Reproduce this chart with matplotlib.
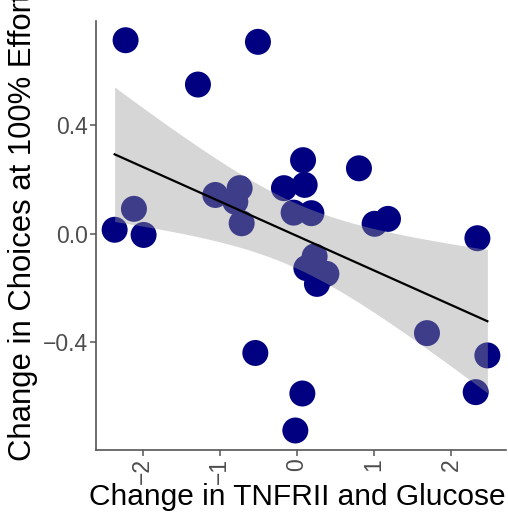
import numpy as np
import matplotlib
matplotlib.use("Agg")
import matplotlib.pyplot as plt

plt.rcParams['font.family'] = ['Liberation Sans', 'DejaVu Sans']

# Data
x_vals = [-2.219, -0.505, -1.282, -2.361, -2.111, -1.986, -1.057, -0.742, -0.798,
          -0.716, 0.079, -0.168, 0.100, -0.043, 0.187, 0.803, 1.006, 1.179, 2.337,
          0.229, 0.122, 0.381, 0.259, 1.684, 2.466, 2.315, -0.539, 0.070, -0.021]
y_vals = [0.711, 0.705, 0.548, 0.014, 0.091, -0.005, 0.142, 0.167, 0.117,
          0.038, 0.270, 0.167, 0.179, 0.077, 0.075, 0.240, 0.036, 0.054, -0.017,
          -0.084, -0.127, -0.148, -0.185, -0.366, -0.448, -0.583, -0.439, -0.588, -0.724]
x_ticks = [-2, -1, 0, 1, 2]
y_ticks = [-0.4, 0.0, 0.4]
x_label = "Change in TNFRII and Glucose"
y_label = "Change in Choices at 100% Effort"

x = np.array(x_vals)
y = np.array(y_vals)
n = len(x)

# Linear fit with 95% confidence band
b1, b0 = np.polyfit(x, y, 1)
resid = y - (b0 + b1 * x)
s = np.sqrt(np.sum(resid ** 2) / (n - 2))
t_crit = 2.052  # t(0.975, df=27)
xs = np.linspace(x.min(), x.max(), 80)
ys = b0 + b1 * xs
se = s * np.sqrt(1.0 / n + (xs - x.mean()) ** 2 / np.sum((x - x.mean()) ** 2))

fig = plt.figure(figsize=(5.08, 5.14), dpi=100)
ax = fig.add_axes([96 / 508, 64 / 514, 410 / 508, 429.3 / 514])

ax.scatter(x, y, s=350, color='#000080', edgecolors='none', zorder=1)
ax.fill_between(xs, ys - t_crit * se, ys + t_crit * se, color='#999999', alpha=0.4,
                linewidth=0, zorder=2)
ax.plot(xs, ys, color='black', linewidth=1.6, zorder=3)

xr = x.max() - x.min()
yr = y.max() - y.min()
ax.set_xlim(x.min() - 0.05 * xr, x.max() + 0.05 * xr)
ax.set_ylim(y.min() - 0.05 * yr, y.max() + 0.05 * yr)

ax.set_xticks(x_ticks)
ax.set_xticklabels([f"{v:g}".replace('-', '\u2212') for v in x_ticks], rotation=90)
ax.set_yticks(y_ticks)
ax.set_yticklabels([f"{v:.1f}".replace('-', '\u2212') for v in y_ticks])

for side in ['top', 'right']:
    ax.spines[side].set_visible(False)
for side in ['left', 'bottom']:
    ax.spines[side].set_color('#555555')
    ax.spines[side].set_linewidth(1.2)
ax.tick_params(axis='both', colors='#555555', length=4, width=1.1,
               labelsize=16.5, labelcolor='#4D4D4D', pad=2)

fig.text(297 / 508, (514 - 497) / 514, x_label, ha='center', va='center', fontsize=21.5,
         color='black')
fig.text(23 / 508, (514 - 461) / 514, y_label, rotation=90, ha='center', va='bottom',
         fontsize=22.3, color='black')

fig.savefig('out.png', dpi=100)
